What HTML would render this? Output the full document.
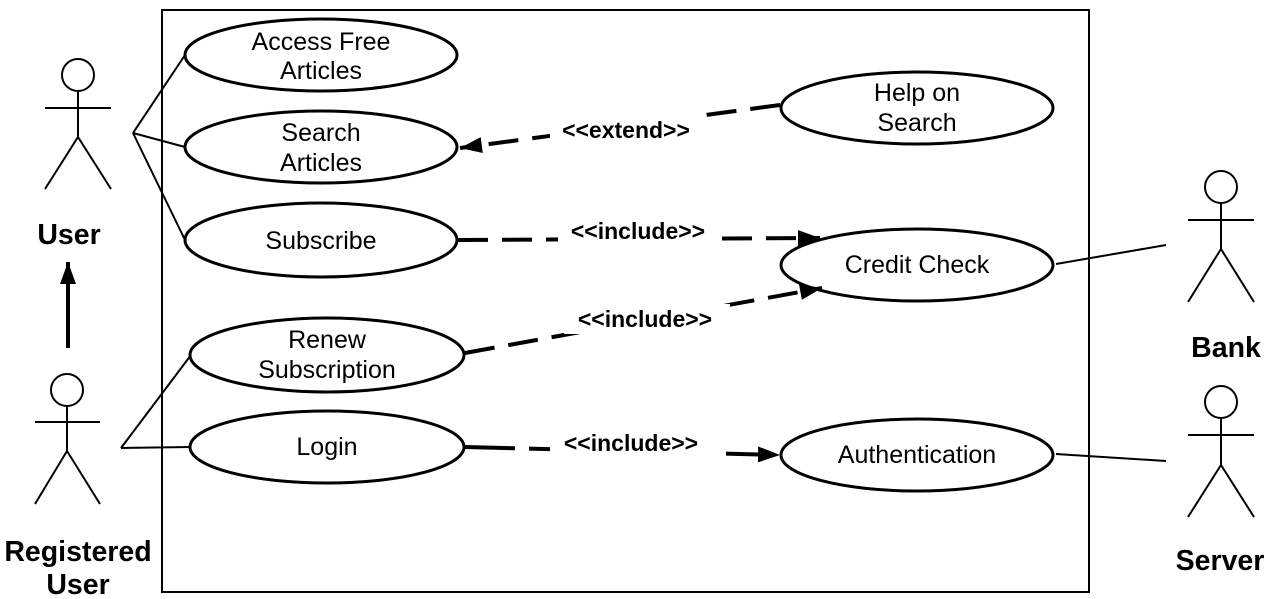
<!DOCTYPE html>
<html><head><meta charset="utf-8"><style>
html,body{margin:0;padding:0;background:#fff;width:1280px;height:599px;overflow:hidden}
svg text{font-family:"Liberation Sans",sans-serif}
.lb text{font-family:"Liberation Sans",sans-serif;font-weight:bold}
</style></head><body>
<svg width="1280" height="599" viewBox="0 0 1280 599" xmlns="http://www.w3.org/2000/svg">
<defs>
<marker id="ah2" viewBox="0 0 10 10" refX="10" refY="5" markerWidth="22" markerHeight="16" markerUnits="userSpaceOnUse" orient="auto" preserveAspectRatio="none"><path d="M0,0 L10,5 L0,10 z" fill="#000"/></marker>
</defs>
<rect x="162" y="10" width="927" height="582" fill="none" stroke="#000" stroke-width="2"/>
<g stroke="#000" stroke-width="2" fill="none">
<line x1="133" y1="133" x2="185" y2="55"/>
<line x1="133" y1="133" x2="185" y2="147"/>
<line x1="133" y1="133" x2="185" y2="240"/>
<line x1="121" y1="448" x2="191" y2="355"/>
<line x1="121" y1="448" x2="191" y2="447"/>
<line x1="1056" y1="264" x2="1166" y2="245"/>
<line x1="1056" y1="454" x2="1166" y2="461"/>
</g>
<g stroke="#000" stroke-width="3" fill="#fff">
<ellipse cx="321" cy="55" rx="136" ry="36"/>
<ellipse cx="321" cy="147" rx="136" ry="36"/>
<ellipse cx="321" cy="240" rx="136" ry="37"/>
<ellipse cx="327" cy="355" rx="137" ry="37"/>
<ellipse cx="327" cy="447" rx="137" ry="36"/>
<ellipse cx="917" cy="108" rx="136" ry="36"/>
<ellipse cx="917" cy="265" rx="136" ry="36"/>
<ellipse cx="917" cy="455" rx="136" ry="36"/>
</g>
<g text-anchor="middle" fill="#000" style="font-size:25px">
<text x="321" y="50">Access Free</text><text x="321" y="79">Articles</text>
<text x="321" y="141">Search</text><text x="321" y="171">Articles</text>
<text x="321" y="249">Subscribe</text>
<text x="327" y="348">Renew</text><text x="327" y="378">Subscription</text>
<text x="327" y="455">Login</text>
<text x="917" y="101">Help on</text><text x="917" y="131">Search</text>
<text x="917" y="273">Credit Check</text>
<text x="917" y="463">Authentication</text>
</g>
<g stroke="#000" stroke-width="4" fill="none" stroke-dasharray="30,14">
<line x1="780" y1="105" x2="460" y2="148" marker-end="url(#ah2)"/>
<line x1="458" y1="240" x2="820" y2="238" marker-end="url(#ah2)"/>
<line x1="465" y1="353" x2="822" y2="288" marker-end="url(#ah2)"/>
<line x1="465" y1="447" x2="780" y2="455" stroke-dasharray="50,14" marker-end="url(#ah2)"/>
</g>
<g class="lb" text-anchor="middle">
<rect x="550" y="114" width="152" height="28" fill="#fff"/>
<rect x="558" y="216" width="164" height="30" fill="#fff"/>
<rect x="564" y="304" width="166" height="30" fill="#fff"/>
<rect x="550" y="428" width="176" height="28" fill="#fff"/>
<g style="font-size:23px">
<text x="626" y="138">&lt;&lt;extend&gt;&gt;</text>
<text x="638" y="239">&lt;&lt;include&gt;&gt;</text>
<text x="645" y="327">&lt;&lt;include&gt;&gt;</text>
<text x="631" y="451">&lt;&lt;include&gt;&gt;</text>
</g>
</g>
<g stroke="#000" stroke-width="2" fill="none">
<circle cx="78" cy="75" r="16"/><line x1="78" y1="91" x2="78" y2="137"/><line x1="45" y1="108" x2="111" y2="108"/><line x1="78" y1="137" x2="45" y2="189"/><line x1="78" y1="137" x2="111" y2="189"/>
<circle cx="67" cy="390" r="16"/><line x1="67" y1="406" x2="67" y2="451"/><line x1="35" y1="422" x2="100" y2="422"/><line x1="67" y1="451" x2="35" y2="504"/><line x1="67" y1="451" x2="100" y2="504"/>
<circle cx="1221" cy="187" r="16"/><line x1="1221" y1="203" x2="1221" y2="249"/><line x1="1188" y1="220" x2="1254" y2="220"/><line x1="1221" y1="249" x2="1188" y2="302"/><line x1="1221" y1="249" x2="1254" y2="302"/>
<circle cx="1221" cy="402" r="16"/><line x1="1221" y1="418" x2="1221" y2="465"/><line x1="1188" y1="435" x2="1254" y2="435"/><line x1="1221" y1="465" x2="1188" y2="517"/><line x1="1221" y1="465" x2="1254" y2="517"/>
</g>
<line x1="68" y1="348" x2="68" y2="262" stroke="#000" stroke-width="4" marker-end="url(#ah2)"/>
<g class="lb" text-anchor="middle" style="font-size:28.5px">
<text x="69" y="244">User</text>
<text x="78" y="561">Registered</text>
<text x="78" y="594">User</text>
<text x="1226" y="357">Bank</text>
<text x="1220" y="570">Server</text>
</g>
</svg>
</body></html>
